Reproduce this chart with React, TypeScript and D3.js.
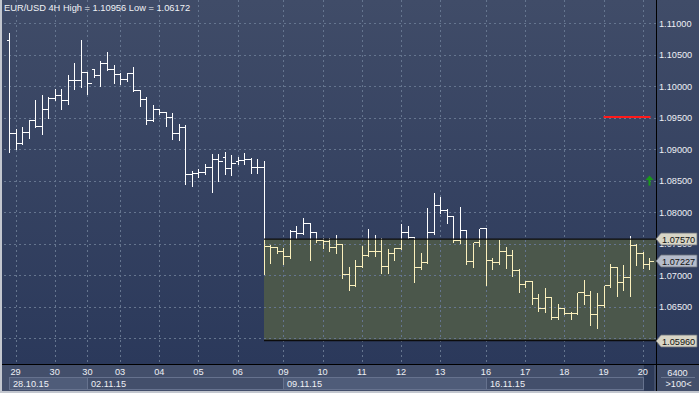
import React from "react";
import * as d3 from "d3";

const W = 699;
const H = 393;

const title = "EUR/USD 4H High = 1.10956 Low = 1.06172";

const opens = [
  1.10725, 1.09249, 1.09100, 1.09265, 1.09460, 1.09365, 1.09630, 1.09805, 1.09852, 1.09778,
  1.10090, 1.10090, 1.10217, 1.10270, 1.10175, 1.10360, 1.10265, 1.10190, 1.10106, 1.10202,
  1.09937, 1.09789, 1.09460, 1.09640, 1.09587, 1.09503, 1.09249, 1.09344, 1.08603, 1.08614,
  1.08635, 1.08719, 1.08837, 1.08868, 1.08694, 1.08814, 1.08821, 1.08837, 1.08719, 1.08719,
  1.07460, 1.07440, 1.07386, 1.07302, 1.07703, 1.07662, 1.07830, 1.07678, 1.07556, 1.07544,
  1.07440, 1.07492, 1.07011, 1.06841, 1.07143, 1.07317, 1.07386, 1.07386, 1.07143, 1.07354,
  1.07424, 1.07678, 1.07608, 1.07122, 1.07211, 1.07678, 1.08111, 1.08032, 1.07937, 1.07556,
  1.07714, 1.07222, 1.07519, 1.07741, 1.07238, 1.07202, 1.07386, 1.07313, 1.07079, 1.06857,
  1.06910, 1.06630, 1.06471, 1.06656, 1.06338, 1.06471, 1.06402, 1.06402, 1.06725, 1.06683,
  1.06381, 1.06519, 1.06837, 1.07132, 1.06884, 1.06963, 1.07471, 1.07344, 1.07175,
];
const highs = [
  1.10862, 1.09329, 1.09365, 1.09471, 1.09794, 1.09873, 1.09841, 1.09973, 1.09964, 1.10190,
  1.10376, 1.10746, 1.10227, 1.10281, 1.10413, 1.10556, 1.10344, 1.10227, 1.10217, 1.10322,
  1.09937, 1.09841, 1.09710, 1.09646, 1.09592, 1.09592, 1.09408, 1.09397, 1.08667, 1.08694,
  1.08773, 1.08932, 1.08932, 1.08973, 1.08921, 1.08889, 1.08948, 1.08868, 1.08857, 1.08825,
  1.07492, 1.07449, 1.07449, 1.07725, 1.07794, 1.07916, 1.07846, 1.07687, 1.07608, 1.07608,
  1.07651, 1.07513, 1.07143, 1.07249, 1.07476, 1.07741, 1.07651, 1.07598, 1.07424, 1.07449,
  1.07821, 1.07794, 1.07608, 1.07370, 1.08084, 1.08313, 1.08254, 1.08059, 1.07937, 1.08095,
  1.07714, 1.07529, 1.07741, 1.07741, 1.07281, 1.07571, 1.07460, 1.07408, 1.07106, 1.06921,
  1.06910, 1.06710, 1.06805, 1.06656, 1.06560, 1.06471, 1.06429, 1.06735, 1.06932, 1.06762,
  1.06725, 1.06837, 1.07186, 1.07135, 1.07170, 1.07635, 1.07513, 1.07381, 1.07281,
];
const lows = [
  1.08973, 1.09021, 1.09090, 1.09186, 1.09365, 1.09259, 1.09513, 1.09794, 1.09656, 1.09735,
  1.09964, 1.10005, 1.09884, 1.10159, 1.10016, 1.10265, 1.10068, 1.10043, 1.10095, 1.09937,
  1.09694, 1.09408, 1.09460, 1.09567, 1.09381, 1.09170, 1.09154, 1.08456, 1.08433, 1.08571,
  1.08624, 1.08338, 1.08508, 1.08614, 1.08603, 1.08773, 1.08783, 1.08640, 1.08640, 1.07037,
  1.07211, 1.07370, 1.07195, 1.07290, 1.07598, 1.07662, 1.07254, 1.07540, 1.07449, 1.07397,
  1.07370, 1.06973, 1.06773, 1.06841, 1.07143, 1.07317, 1.07313, 1.07052, 1.07052, 1.07249,
  1.07424, 1.07598, 1.06910, 1.07106, 1.07211, 1.07662, 1.08005, 1.07846, 1.07544, 1.07529,
  1.07186, 1.07143, 1.07476, 1.06857, 1.07106, 1.07186, 1.07132, 1.07000, 1.06751, 1.06825,
  1.06560, 1.06444, 1.06433, 1.06313, 1.06313, 1.06392, 1.06313, 1.06392, 1.06560, 1.06222,
  1.06172, 1.06513, 1.06825, 1.06683, 1.06773, 1.06683, 1.07175, 1.07122, 1.07106,
];
const closes = [
  1.09249, 1.09100, 1.09265, 1.09460, 1.09365, 1.09630, 1.09805, 1.09852, 1.09778, 1.10090,
  1.10090, 1.10217, 1.10052, 1.10175, 1.10360, 1.10265, 1.10190, 1.10106, 1.10202, 1.09937,
  1.09789, 1.09460, 1.09640, 1.09587, 1.09503, 1.09249, 1.09344, 1.08603, 1.08614, 1.08635,
  1.08719, 1.08837, 1.08805, 1.08694, 1.08773, 1.08821, 1.08837, 1.08719, 1.08719, 1.07460,
  1.07440, 1.07386, 1.07302, 1.07703, 1.07662, 1.07830, 1.07678, 1.07556, 1.07544, 1.07440,
  1.07492, 1.07011, 1.06841, 1.07143, 1.07317, 1.07386, 1.07386, 1.07143, 1.07354, 1.07424,
  1.07678, 1.07608, 1.07122, 1.07211, 1.07678, 1.08111, 1.08032, 1.07937, 1.07556, 1.07714,
  1.07222, 1.07519, 1.07741, 1.07238, 1.07202, 1.07386, 1.07313, 1.07079, 1.06857, 1.06910,
  1.06630, 1.06471, 1.06656, 1.06338, 1.06471, 1.06402, 1.06402, 1.06725, 1.06683, 1.06381,
  1.06519, 1.06837, 1.07132, 1.06884, 1.06963, 1.07471, 1.07344, 1.07175, 1.07227,
];

// day ticks (bar index) and labels
const dayTickIdx = [1, 7, 12, 17, 23, 29, 35, 42, 48, 54, 60, 66, 73, 79, 85, 91, 97];
const dayTickLabels = ["29", "30", "30", "03", "04", "05", "06", "09", "10", "11", "12", "13", "16", "17", "18", "19", "20"];
// week boxes (start bar index) and labels
const weekStartIdx = [0, 12, 42, 73];
const weekLabels = ["28.10.15", "02.11.15", "09.11.15", "16.11.15"];
const weekHighlighted = [true, false, true, false];

const priceTicks = [1.06, 1.065, 1.07, 1.075, 1.08, 1.085, 1.09, 1.095, 1.1, 1.105, 1.11];
// labels hidden under a price marker are not drawn
const priceLabelTicks = [1.065, 1.07, 1.075, 1.08, 1.085, 1.09, 1.095, 1.1, 1.105, 1.11];

// zone rectangle
const zoneStartIdx = 39;
const zoneTop = 1.0757;
const zoneBottom = 1.0596;
const lastPrice = 1.07227;
const redLevel = 1.095;
const redStartIdx = 91;
const arrowIdx = 98;
const arrowPrice = 1.0853;

const FONT = "'Liberation Sans', Arial, sans-serif";

export default function App() {
  const plotRight = 656;
  const plotBottom = 364;
  const x = d3.scaleLinear().domain([0, closes.length - 1]).range([9, 649.3]);
  const y = d3.scaleLinear().domain([1.06, 1.11]).range([338, 23]);
  const px = (i: number) => Math.round(x(i)) + 0.5;
  const py = (v: number) => Math.round(y(v)) + 0.5;

  const bars = closes.map((c, i) => ({ i, o: opens[i], h: highs[i], l: lows[i], c }));

  const renderBars = (color: string) =>
    bars.map((b) => {
      const cx = px(b.i);
      return (
        <g key={b.i} stroke={color} strokeWidth={1} shapeRendering="crispEdges">
          <line x1={cx} x2={cx} y1={py(b.h)} y2={py(b.l) + 1} />
          <line x1={cx - 3} x2={cx} y1={py(b.o)} y2={py(b.o)} />
          <line x1={cx} x2={cx + 4} y1={py(b.c)} y2={py(b.c)} />
        </g>
      );
    });

  const zx0 = Math.round(x(zoneStartIdx));
  const zy0 = y(zoneTop);
  const zy1 = y(zoneBottom);

  const labelBox = (v: number, fill: string, key: string) => {
    const cy = Math.round(y(v));
    const d = `M656,${cy} L661,${cy - 6} L697,${cy - 6} L697,${cy + 6} L661,${cy + 6} Z`;
    return (
      <g key={key}>
        <path d={d} fill={fill} stroke="#6b6f78" strokeWidth={0.8} />
        <text x={662} y={cy + 3.5} fontSize={9.2} fill="#111" fontFamily={FONT}>
          {v.toFixed(5)}
        </text>
      </g>
    );
  };

  const ax = px(arrowIdx);
  const ay = y(arrowPrice);
  const ry = Math.round(y(redLevel));

  return (
    <svg
      width={W}
      height={H}
      style={{ position: "absolute", left: 0, top: 0, display: "block" }}
    >
      <defs>
        <linearGradient id="bg" x1="0" y1="0" x2="0" y2="1">
          <stop offset="0%" stopColor="#404c68" />
          <stop offset="100%" stopColor="#2b395b" />
        </linearGradient>
        <clipPath id="zoneClip">
          <rect x={zx0} y={zy0} width={plotRight - zx0} height={zy1 - zy0} />
        </clipPath>
        <clipPath id="plotClip">
          <rect x={3} y={0} width={plotRight - 3} height={plotBottom} />
        </clipPath>
        <clipPath id="hiddenLabelClip">
          <rect x={657} y={245} width={42} height={6} />
        </clipPath>
      </defs>

      <rect x={0} y={0} width={W} height={plotBottom} fill="url(#bg)" />
      <rect x={0} y={plotBottom} width={W} height={H - plotBottom} fill="#434f6b" />

      {/* zone fill */}
      <rect x={zx0} y={zy0} width={plotRight - zx0} height={zy1 - zy0} fill="#4b574b" />

      {/* grid */}
      <g stroke="#65758f" strokeWidth={1} strokeDasharray="2,3" shapeRendering="crispEdges">
        {priceTicks.map((t) => (
          <line key={"h" + t} x1={4} x2={plotRight} y1={py(t)} y2={py(t)} />
        ))}
        {dayTickIdx.map((t) => (
          <line key={"v" + t} x1={px(t)} x2={px(t)} y1={0} y2={plotBottom} />
        ))}
      </g>

      {/* bars */}
      <g clipPath="url(#plotClip)">{renderBars("#ffffff")}</g>
      <g clipPath="url(#zoneClip)">{renderBars("#fbf0bc")}</g>

      {/* zone borders */}
      <g stroke="#0c0c0c" strokeWidth={1.4}>
        <line x1={zx0} x2={plotRight} y1={zy0} y2={zy0} />
        <line x1={zx0} x2={plotRight} y1={zy1} y2={zy1} />
      </g>

      {/* red level */}
      <rect x={px(redStartIdx) - 1} y={ry - 2} width={px(arrowIdx) - px(redStartIdx) + 2} height={2} fill="#ff1a1a" />

      {/* green arrow */}
      <g fill="#1a9a1a" stroke="none">
        <path d={`M${ax},${ay - 3} L${ax + 4},${ay + 1.5} L${ax - 4},${ay + 1.5} Z`} />
        <rect x={ax - 1} y={ay} width={2} height={7} />
      </g>

      {/* title */}
      <text x={4} y={11} fontSize={9.3} fill="#f0f2f6" fontFamily={FONT}>
        {title}
      </text>

      {/* frame lines */}
      <line x1={plotRight + 0.5} x2={plotRight + 0.5} y1={0} y2={H} stroke="#000" strokeWidth={1} />
      <line x1={0} x2={W} y1={plotBottom + 0.5} y2={plotBottom + 0.5} stroke="#000" strokeWidth={1} />

      {/* right price axis */}
      <g fontSize={9.2} fill="#eef0f5" fontFamily={FONT}>
        {priceLabelTicks.map((t) => (
          <text
            key={"p" + t}
            x={659}
            y={y(t) + 3.5}
            clipPath={t === 1.075 ? "url(#hiddenLabelClip)" : undefined}
          >
            {t.toFixed(5)}
          </text>
        ))}
      </g>
      {labelBox(zoneTop, "#d8d5c6", "lb1")}
      {labelBox(lastPrice, "#b5bccb", "lb2")}
      {labelBox(zoneBottom, "#d8d5c6", "lb3")}

      {/* bottom axis: week boxes */}
      {weekStartIdx.map((s, k) => {
        const x0 = k === 0 ? 9 : Math.round(x(s));
        const x1 = k < weekStartIdx.length - 1 ? Math.round(x(weekStartIdx[k + 1])) : 643;
        return (
          <g key={"w" + k}>
            <rect
              x={x0 + 0.5}
              y={377.5}
              width={x1 - x0}
              height={12}
              fill={weekHighlighted[k] ? "#4f5c79" : "#434f6b"}
              stroke="#66728e"
              strokeWidth={1}
            />
            <text x={x0 + 4} y={387} fontSize={9.2} fill="#eef0f5" fontFamily={FONT}>
              {weekLabels[k]}
            </text>
          </g>
        );
      })}
      <rect x={644} y={365} width={10} height={27} fill="#2d3a58" />

      {/* day labels */}
      <g fontSize={9.2} fill="#eef0f5" fontFamily={FONT} textAnchor="middle">
        {dayTickIdx.map((t, k) => (
          <text key={"d" + t} x={x(t)} y={375}>
            {dayTickLabels[k]}
          </text>
        ))}
      </g>

      {/* bottom-right corner */}
      <text x={677.5} y={375.5} fontSize={9.2} fill="#eef0f5" fontFamily={FONT} textAnchor="middle">
        6400
      </text>
      <line x1={661} x2={695} y1={377.5} y2={377.5} stroke="#6a7690" strokeWidth={1} />
      <text x={678.5} y={387} fontSize={9.2} fill="#eef0f5" fontFamily={FONT} textAnchor="middle">
        {">100<"}
      </text>

      {/* outer light edges */}
      <rect x={0} y={0} width={2} height={H} fill="#c3c7cf" />
      <rect x={0} y={391} width={W} height={2} fill="#c3c7cf" />
    </svg>
  );
}
